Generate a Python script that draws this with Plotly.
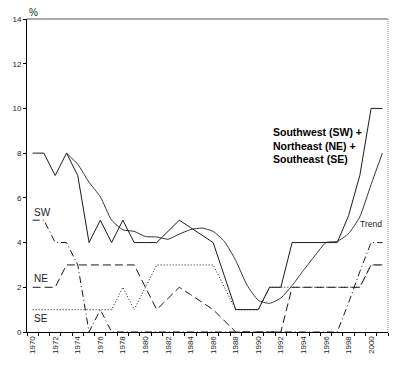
import plotly.graph_objects as go

years = list(range(1970, 2002))

total = [8, 8, 7, 8, 7, 4, 5, 4, 5, 4, 4, 4, 4.5, 5, 4.67, 4.33, 4, 2.5, 1, 1, 1, 2, 2, 4,
         4, 4, 4, 4, 5.2, 7, 10, 10]
trend = [None, None, None, 8, 7.5, 6.7, 6.05, 5.0, 4.57, 4.5, 4.27, 4.25, 4.15, 4.38, 4.58, 4.65,
         4.5, 4.05, 3.2, 2.1, 1.42, 1.28, 1.52, 2.08, 2.75, 3.4, 4.0, 4.05, 4.4, 5.15, 6.6, 8.0]
sw = [5, 5, 4, 4, 3, 0, 1, 0, 0, 0, 0, 0, 0, 0, 0, 0, 0, 0, 0, 0, 0, 0, 0, 0,
      0, 0, 0, 0, 1.3, 2.7, 4, 4]
ne = [2, 2, 2, 3, 3, 3, 3, 3, 3, 3, 2, 1, 1.5, 2, 1.67, 1.33, 1, 0.5, 0, 0, 0, 0, 0, 2,
      2, 2, 2, 2, 2, 2, 3, 3]
se = [1, 1, 1, 1, 1, 1, 1, 1, 2, 1, 2, 3, 3, 3, 3, 3, 3, 2, 1, 1, 1, 2, 2, 2,
      2, 2, 2, 2, 2, 2, 3, 3]

label_years = years[::2]
label_text = [str(y) for y in label_years]
y_ticks = list(range(0, 15, 2))

FONT = "Liberation Sans, Arial, sans-serif"
LC = "#1a1a1a"

fig = go.Figure()
fig.add_trace(go.Scatter(x=years, y=se, mode="lines", line=dict(color=LC, width=1, dash="1px,2px")))
fig.add_trace(go.Scatter(x=years, y=ne, mode="lines", line=dict(color=LC, width=1, dash="8px,4px")))
fig.add_trace(go.Scatter(x=years, y=sw, mode="lines", line=dict(color=LC, width=1, dash="7px,3px,1px,3px")))
fig.add_trace(go.Scatter(x=years, y=trend, mode="lines", line=dict(color="#333", width=1, shape="spline", smoothing=0.5)))
fig.add_trace(go.Scatter(x=years, y=total, mode="lines", line=dict(color=LC, width=1)))

fig.update_layout(
    width=420, height=377,
    margin=dict(l=27, r=32, t=19, b=45, autoexpand=False),
    paper_bgcolor="white", plot_bgcolor="white",
    showlegend=False,
    font=dict(family=FONT, size=8, color="#222"),
    xaxis=dict(
        range=[1969.5, 2001.5], tickmode="array", tickvals=label_years, ticktext=label_text,
        tickangle=-90, ticks="", showgrid=False, zeroline=False, automargin=False,
        showline=True, linecolor="black", linewidth=1,
        minor=dict(tick0=1969.5, dtick=1, ticks="outside", ticklen=3, tickcolor="black", showgrid=False),
        tickfont=dict(size=8, color="#222"),
    ),
    yaxis=dict(
        range=[0, 14], tickmode="array", tickvals=y_ticks, ticks="outside", ticklen=3,
        tickcolor="black", showgrid=False, zeroline=False, automargin=False,
        showline=True, linecolor="black", linewidth=1,
        tickfont=dict(size=8, color="#222"),
    ),
    shapes=[
        dict(type="line", xref="paper", yref="paper", x0=0, x1=1, y0=1, y1=1,
             line=dict(color="#555", width=1)),
        dict(type="line", xref="paper", yref="paper", x0=1, x1=1, y0=0, y1=1,
             line=dict(color="#888", width=1, dash="1px,1px")),
    ],
)

fig.add_annotation(x=0, y=1.02, xref="paper", yref="paper", text="%", showarrow=False,
                   xanchor="left", yanchor="middle", font=dict(size=10, color="#222"))
fig.add_annotation(x=1969.9, y=5.35, text="SW", showarrow=False, xanchor="left", yanchor="middle",
                   font=dict(size=10, color="#222"))
fig.add_annotation(x=1969.9, y=2.4, text="NE", showarrow=False, xanchor="left", yanchor="middle",
                   font=dict(size=10, color="#222"))
fig.add_annotation(x=1969.9, y=0.62, text="SE", showarrow=False, xanchor="left", yanchor="middle",
                   font=dict(size=10, color="#222"))
fig.add_annotation(x=1991.1, y=8.33, text="Southwest (SW) +<br>Northeast (NE) +<br>Southeast (SE)",
                   showarrow=False, xanchor="left", yanchor="middle", align="left",
                   font=dict(size=10.5, color="black", family="Liberation Sans, Arial, sans-serif", weight="bold"))
fig.add_annotation(x=1998.8, y=4.7, text="Trend", showarrow=True, arrowhead=0, arrowwidth=0.8,
                   arrowcolor="#333", ax=13, ay=-3, font=dict(size=8.5, color="#222"))

fig.write_html("out.html", config={"displayModeBar": False},
               post_script="document.body.style.margin='0';")
